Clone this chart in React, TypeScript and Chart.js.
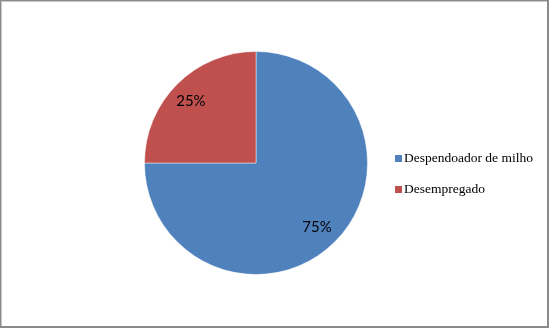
import React, { useEffect, useRef } from "react";
import { Chart, registerables } from "chart.js";

Chart.register(...registerables);

const categories = ["Despendoador de milho", "Desempregado"];
const values = [75, 25];
const colors = ["#4F81BD", "#C0504D"];

const overlayPlugin = {
  id: "overlay",
  afterDraw(chart: any) {
    const ctx = chart.ctx as CanvasRenderingContext2D;
    const meta = chart.getDatasetMeta(0);
    const data = chart.data.datasets[0].data as number[];
    const total = data.reduce((a, b) => a + b, 0);
    ctx.save();
    // percentage labels
    ctx.fillStyle = "#000";
    ctx.font = "15px Lato";
    ctx.textAlign = "center";
    ctx.textBaseline = "middle";
    meta.data.forEach((arc: any, i: number) => {
      const p = arc.getProps(["x", "y", "startAngle", "endAngle", "outerRadius"], true);
      const mid = (p.startAngle + p.endAngle) / 2;
      const r = p.outerRadius * 0.8;
      const pct = Math.round((data[i] / total) * 100) + "%";
      ctx.fillText(pct, p.x + Math.cos(mid) * r - 2, p.y + Math.sin(mid) * r + 1);
    });
    // legend
    ctx.font = "13.5px 'Liberation Serif'";
    ctx.textAlign = "left";
    ctx.textBaseline = "alphabetic";
    const labels = chart.data.labels as string[];
    labels.forEach((lab, i) => {
      const y = 155 + i * 31;
      ctx.fillStyle = (chart.data.datasets[0].backgroundColor as string[])[i];
      ctx.fillRect(395, y, 7, 7);
      ctx.fillStyle = "#000";
      ctx.fillText(lab, 404, y + 7);
    });
    // outer border
    ctx.fillStyle = "#8a8a8a";
    ctx.fillRect(0, 0, 549, 1);
    ctx.fillRect(0, 0, 1, 328);
    ctx.fillRect(547, 0, 2, 328);
    ctx.fillRect(0, 326, 549, 2);
    ctx.fillStyle = "#c8c8c8";
    ctx.fillRect(1, 1, 546, 1);
    ctx.fillRect(1, 1, 1, 325);
    ctx.restore();
  },
};

export default function App() {
  const ref = useRef<HTMLCanvasElement>(null);
  useEffect(() => {
    if (!ref.current) return;
    const chart = new Chart(ref.current, {
      type: "pie",
      data: {
        labels: categories,
        datasets: [
          {
            data: values,
            backgroundColor: colors,
            borderColor: "rgba(255,255,255,0.45)",
            borderWidth: 1,
          },
        ],
      },
      options: {
        responsive: false,
        animation: false,
        layout: { padding: { left: 144, right: 181, top: 51, bottom: 53 } },
        plugins: {
          legend: { display: false },
          tooltip: { enabled: false },
        },
      },
      plugins: [overlayPlugin],
    });
    return () => chart.destroy();
  }, []);
  return (
    <div style={{ position: "fixed", left: 0, top: 0, width: 549, height: 328, background: "#fff" }}>
      <canvas ref={ref} width={549} height={328} style={{ display: "block" }} />
    </div>
  );
}
